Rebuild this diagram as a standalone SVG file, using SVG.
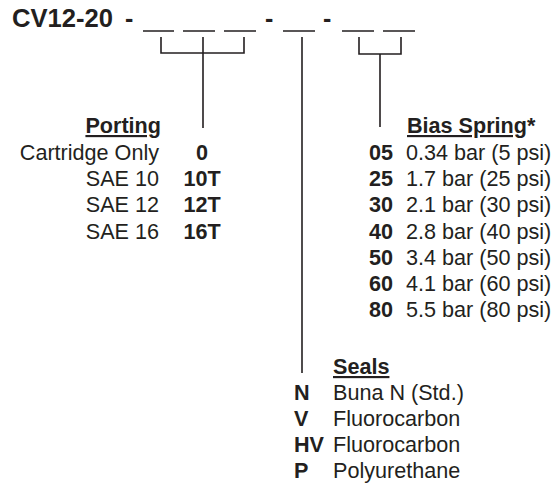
<svg xmlns="http://www.w3.org/2000/svg" width="556" height="485" viewBox="0 0 556 485">
<style>
text{font-family:"Liberation Sans",Arial,Helvetica,sans-serif;font-size:21.6px;fill:#231f20}
.t{font-weight:bold;font-size:25px}
.b{font-weight:bold}
.h{font-weight:bold;text-decoration:underline}
.r{text-anchor:end}
.m{text-anchor:middle}
.ln{stroke:#231f20;stroke-width:1.6;fill:none}
.bl{stroke:#231f20;stroke-width:1.5;fill:none}
</style>
<rect width="556" height="485" fill="#fff"/>
<g id="title">
<text class="t" x="12" y="27" textLength="101" lengthAdjust="spacingAndGlyphs">CV12-20</text>
<text class="t" x="125" y="27">-</text>
<text class="t" x="265" y="27">-</text>
<text class="t" x="323" y="27">-</text>
<path class="bl" d="M143 31H174M183 31H215M224 31H256M283 31H315M342 31H374M383 31H415"/>
</g>
<g id="connectors">
<path class="ln" d="M161 37V53H244V37M203 37V128"/>
<path class="ln" d="M302 37V373"/>
<path class="ln" d="M359 37V54H401V37M380 54V127"/>
</g>
<g id="porting">
<text class="h r" x="161" y="133">Porting</text>
<text class="r" x="159" y="160">Cartridge Only</text>
<text class="r" x="159" y="186.2">SAE 10</text>
<text class="r" x="159" y="212.4">SAE 12</text>
<text class="r" x="159" y="238.6">SAE 16</text>
<text class="b m" x="202" y="160">0</text>
<text class="b m" x="202" y="186.2">10T</text>
<text class="b m" x="202" y="212.4">12T</text>
<text class="b m" x="202" y="238.6">16T</text>
</g>
<g id="bias-spring">
<text class="b" x="407" y="133"><tspan text-decoration="underline">Bias Spring</tspan>*</text>
<text class="b m" x="381" y="160">05</text>
<text class="b m" x="381" y="186.2">25</text>
<text class="b m" x="381" y="212.4">30</text>
<text class="b m" x="381" y="238.6">40</text>
<text class="b m" x="381" y="264.8">50</text>
<text class="b m" x="381" y="291">60</text>
<text class="b m" x="381" y="317.2">80</text>
<text x="406" y="160">0.34 bar (5 psi)</text>
<text x="406" y="186.2">1.7 bar (25 psi)</text>
<text x="406" y="212.4">2.1 bar (30 psi)</text>
<text x="406" y="238.6">2.8 bar (40 psi)</text>
<text x="406" y="264.8">3.4 bar (50 psi)</text>
<text x="406" y="291">4.1 bar (60 psi)</text>
<text x="406" y="317.2">5.5 bar (80 psi)</text>
</g>
<g id="seals">
<text class="h" x="333" y="374">Seals</text>
<text class="b" x="294" y="400">N</text>
<text class="b" x="294" y="426">V</text>
<text class="b" x="294" y="452">HV</text>
<text class="b" x="294" y="478">P</text>
<text x="333" y="400">Buna N (Std.)</text>
<text x="333" y="426">Fluorocarbon</text>
<text x="333" y="452">Fluorocarbon</text>
<text x="333" y="478">Polyurethane</text>
</g>
</svg>
